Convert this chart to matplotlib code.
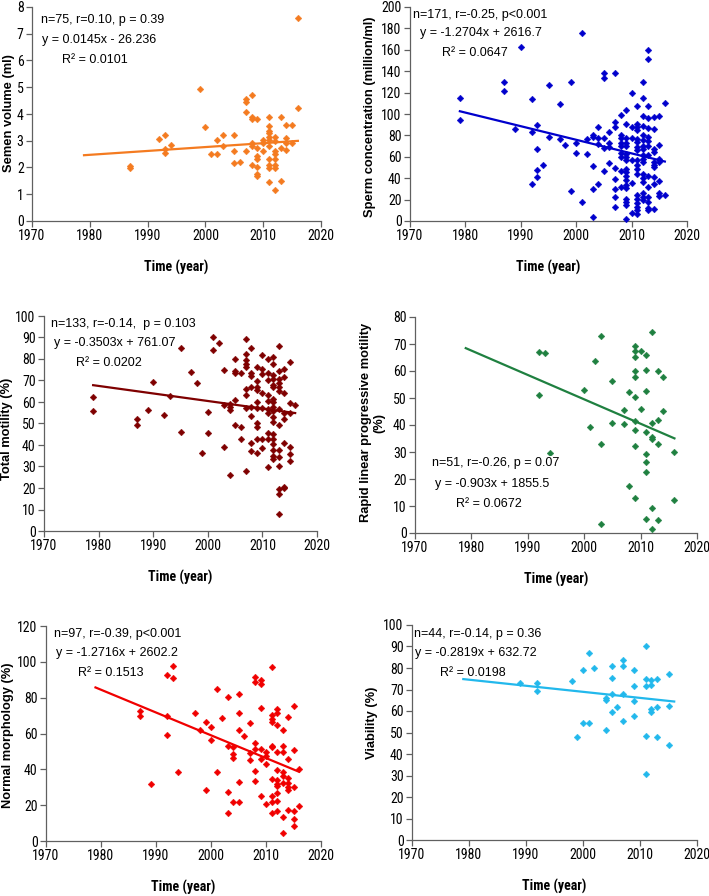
import matplotlib
matplotlib.use("Agg")
import matplotlib.pyplot as plt
from matplotlib import font_manager
from matplotlib.font_manager import FontProperties

# ---------- font discovery (narrow / condensed sans if available) ----------
ttf = font_manager.fontManager.ttflist
def find_font(bold):
    want_w = (lambda w: (w if isinstance(w, int) else 400) >= 600) if bold else \
             (lambda w: (w if isinstance(w, int) else 400) < 600)
    prefs = ['Liberation Sans Narrow', 'Arial Narrow', 'Roboto Condensed',
             'Open Sans Condensed', 'Noto Sans Condensed', 'DejaVu Sans Condensed']
    for name in prefs:
        for f in ttf:
            if f.name == name and f.style == 'normal' and want_w(f.weight):
                return f.fname
    for f in ttf:
        if f.name in ('DejaVu Sans', 'Noto Sans', 'Open Sans', 'Roboto') and \
                f.stretch in ('condensed', 'semi-condensed') and f.style == 'normal' \
                and want_w(f.weight):
            return f.fname
    return None

nr = find_font(False)
nb = find_font(True)
HAVE_NARROW = nr is not None and nb is not None
if HAVE_NARROW:
    FP_TICK = FontProperties(fname=nr, size=10)
    FP_XLAB = FontProperties(fname=nb, size=10)
else:
    FP_TICK = FontProperties(family='Liberation Sans', size=8.6)
    FP_XLAB = FontProperties(family='Liberation Sans', weight='bold', size=8.8)
FP_TEXT = FontProperties(family='Liberation Sans', size=9)
FP_YLAB = FontProperties(family='Liberation Sans', weight='bold', size=9.3)

# ---------------- DATA ----------------
# Panel 1: Semen volume (ml)
vol_years = [1987, 1992, 1993, 1994, 1999, 2000, 2001, 2002, 2003, 2005, 2006, 2007,
             2008, 2009, 2010, 2011, 2012, 2013, 2014, 2015, 2016]
vol_values = [[2.07, 1.98], [3.05], [3.22, 2.7, 2.53], [2.85], [4.94], [3.5], [2.5],
              [3.03, 2.5], [3.22, 2.82], [3.22, 2.62, 2.17], [2.2],
              [4.57, 4.43, 4.08, 2.62], [4.7, 3.88, 3.8, 2.9, 2.82, 2.1],
              [3.8, 2.72, 2.43, 2.3, 2.03, 1.75, 1.68], [3.03, 2.9, 2.62],
              [3.9, 3.55, 3.38, 3.28, 3.15, 3.03, 2.82, 2.3, 2.1, 1.97, 1.47],
              [3.15, 3.0, 2.62, 2.5, 2.3, 2.1, 1.97, 1.16], [3.9, 2.72, 1.5],
              [3.6, 3.1, 2.9, 2.67], [3.6, 2.9], [7.6, 4.22]]
vol_fit = (0.0145, -26.236)
vol_text = ["n=75, r=0.10, p = 0.39", "y = 0.0145x - 26.236", "R² = 0.0101"]

# Panel 2: Sperm concentration (million/ml)
conc_years = [1979, 1987, 1989, 1990, 1992, 1993, 1994, 1995, 1997, 1998, 1999, 2000,
              2001, 2002, 2003, 2004, 2005, 2006, 2007, 2008, 2009, 2010, 2011, 2012,
              2013, 2014, 2015, 2016]
conc_values = [[114.5, 94.8], [129.5, 121.7], [86], [162.6], [113.6, 83.3, 34.6],
               [89.5, 67.4, 48, 41.5], [52.7], [127.3, 78.6], [109.5, 77], [71.4],
               [130, 27.8], [73.3, 63.6], [175.7, 17.5], [77, 63],
               [80.2, 78.3, 51.5, 29.6, 3.7], [88, 77.7, 72, 34.3],
               [138.5, 133.2, 77.7, 68, 47.1], [83.6, 72.7, 69, 54.6],
               [138, 92.7, 88.3, 49.6, 39.3, 30.3, 22.8, 13.1],
               [99, 80.2, 78, 72.7, 70.2, 64, 60.2, 46.5, 32.1],
               [103.9, 90.5, 78, 72.7, 70.2, 63, 60.2, 57, 49, 45.9, 42.1, 38.4, 33.4,
                30.6, 20.3, 17.8, 14.7, 2.2],
               [119.8, 88, 77.7, 57, 35.9, 7.8],
               [107.6, 91, 88.3, 84.9, 76.4, 74, 69.6, 66.1, 57, 52.4, 49, 44, 24, 20.6,
                16.5, 13.4, 10.3, 6.9],
               [130, 114.5, 98, 88.9, 80.5, 75.8, 70.2, 67, 61.5, 58, 54.9, 43.7, 40.2,
                36.2, 26.5, 22.8, 19.7],
               [159.7, 151.6, 107.6, 96.4, 87, 78.9, 74.6, 70.2, 61.5, 42.4, 31.5, 22.8,
                18.1, 12.5, 10],
               [97, 86, 67.4, 64.6, 55.2, 52.1, 50.2, 40.9, 34.3, 11.2],
               [98, 71.4, 57.7, 54.9, 37.1, 26.5, 23.7], [110.1, 24]]
conc_fit = (-1.2704, 2616.7)
conc_text = ["n=171, r=-0.25, p<0.001", "y = -1.2704x + 2616.7", "R² = 0.0647"]

# Panel 3: Total motility (%)
mot_years = [1979, 1987, 1989, 1990, 1992, 1993, 1995, 1997, 1998, 1999, 2000, 2001,
             2002, 2003, 2004, 2005, 2006, 2007, 2008, 2009, 2010, 2011, 2012, 2013,
             2014, 2015, 2016]
mot_values = [[62.2, 56], [51.9, 49.1], [56.4], [69.5], [54], [62.6], [85.1, 46.2],
              [74.1], [69], [36.4], [55.3, 45.7], [90.4, 84.2], [87.6],
              [74.9, 58.4, 39.1], [59.1, 57.8, 56.3, 26.2],
              [80, 74.4, 73.5, 60.9, 49.1], [73.6, 48.5, 42.9],
              [89.5, 82.5, 79.5, 77.7, 76.4, 65.9, 63.3, 57.2, 28.1],
              [85.3, 73.3, 72.1, 66.8, 57.8, 53.5, 40.8, 37.4],
              [76.4, 69.9, 66.8, 65.6, 59.8, 57.4, 50.4, 48.2, 42.8, 36.1],
              [81.9, 75.5, 73.2, 64, 57, 42.8, 38.8],
              [79.8, 73.3, 70.2, 63.3, 60.5, 56.9, 54.9, 45.7, 42.6, 29.9],
              [81.1, 77.5, 72.6, 70.5, 67.8, 66.8, 61.6, 59.8, 57.8, 55.7, 52.9, 50.7,
               45.1, 42.6, 40.5, 37.7, 34.9, 33.6],
              [86, 74.6, 70.7, 69, 67, 65.3, 56.9, 49.1, 37.7, 34.6, 30.1, 19.5, 17.2, 7.9],
              [75.5, 71.5, 64.3, 54.7, 52.2, 40.8, 20.6, 20],
              [78.8, 59.4, 54.7, 39.2, 35.8, 32.7], [58.6]]
mot_fit = (-0.3503, 761.07)
mot_text = ["n=133, r=-0.14,  p = 0.103", "y = -0.3503x + 761.07", "R² = 0.0202"]

# Panel 4: Rapid linear progressive motility (%)
rap_years = [1992, 1993, 1994, 2000, 2001, 2002, 2003, 2005, 2007, 2008, 2009, 2010,
             2011, 2012, 2013, 2014, 2016]
rap_values = [[67, 51], [66.7], [29.5], [53], [39.1], [63.7], [72.8, 33.1, 3.2],
              [56.2, 40.9], [45.7, 40.5], [52.1, 17.5],
              [69.1, 67.5, 65, 60.1, 57.8, 50.2, 41.4, 38.1, 32.1, 12.8], [67.5, 46.1],
              [66, 60.3, 52.5, 37.5, 29.3, 26.3, 22.5, 5.2],
              [74.3, 40.9, 35.7, 34.9, 9.3, 1.5], [59.9, 41.9, 33.1, 5],
              [57.8, 45.3], [30, 12.4]]
rap_fit = (-0.903, 1855.5)
rap_text = ["n=51, r=-0.26, p = 0.07", "y = -0.903x + 1855.5", "R² = 0.0672"]

# Panel 5: Normal morphology (%)
mor_years = [1987, 1989, 1992, 1993, 1994, 1997, 1998, 1999, 2000, 2001, 2002, 2003,
             2004, 2005, 2006, 2007, 2008, 2009, 2010, 2011, 2012, 2013, 2014, 2015, 2016]
mor_values = [[72.3, 70], [31.7], [92.6, 69.7, 59.4], [97.6, 90.9], [38.4], [71.5],
              [61.9], [66.3, 28.5], [63.4, 56.3], [84.8, 38.4], [68.9],
              [80.5, 52.9, 27.6, 15.7], [52.5, 48.8, 46.4, 21.6],
              [81.8, 71.5, 61.9, 32.8, 21.6], [58.7], [65.6, 49.2, 45.3],
              [91.5, 88.7, 54.6, 51.4, 39.1, 33.5], [89.8, 87.8, 74.5, 51.4, 45.6, 25],
              [49.6, 47.3, 43, 20.9],
              [97.3, 70.2, 68.2, 66.3, 53.1, 52.2, 34.7, 25, 21.6, 15.5],
              [73.4, 71.5, 64.5, 49.6, 39.5, 33.9, 32, 30.6, 26.8, 22.4, 16.8],
              [62.2, 52.9, 49.6, 38.6, 36.5, 32.4, 13.4, 4.3],
              [69.3, 45.5, 35.4, 32.4, 30.2, 28.3, 17.1],
              [75.1, 51, 30.2, 16.8, 12.3, 8.6], [40.2, 19.4]]
mor_fit = (-1.2716, 2602.2)
mor_text = ["n=97, r=-0.39, p<0.001", "y = -1.2716x + 2602.2", "R² = 0.1513"]

# Panel 6: Viability (%)
via_years = [1989, 1992, 1998, 1999, 2000, 2001, 2002, 2004, 2005, 2006, 2007, 2009,
             2011, 2012, 2013, 2015]
via_values = [[72.9], [72.9, 69.1], [73.8], [47.8], [79.2, 54.6], [87, 54.6], [80.2],
              [65.9, 65.1, 51.2], [80.8, 75.3, 67.9, 59.7], [61.7],
              [83.7, 80.8, 67.9, 55.5], [78.9, 71.6, 64.8, 57.7],
              [90.4, 74.7, 71.6, 48.5, 30.9], [74.3, 71.9, 60.8, 59.5],
              [75, 61.9, 47.9], [77.1, 62.5, 44]]
via_fit = (-0.2819, 632.72)
via_text = ["n=44, r=-0.14, p = 0.36", "y = -0.2819x + 632.72", "R² = 0.0198"]

fit_range = (1979, 2016)

# ---------------- LAYOUT ----------------
W, H = 709, 896
panels = [
    dict(years=vol_years, vals=vol_values, fit=vol_fit, text=vol_text, color='#F47B20',
         box=(32, 7, 321, 221), ylim=(0, 8), ystep=1, ylabel="Semen volume (ml)",
         ylx=-0.080, yly=0.505, tpos=[(1971.6, 7.5), (1971.7, 6.77), (1975.2, 6.02)], bbox=False),
    dict(years=conc_years, vals=conc_values, fit=conc_fit, text=conc_text, color='#0000CC',
         box=(410, 7, 687, 221), ylim=(0, 200), ystep=20,
         ylabel="Sperm concentration (million/ml)",
         ylx=-0.144, yly=0.486, tpos=[(1970.6, 192.8), (1971.8, 175.7), (1975.8, 157)], bbox=False),
    dict(years=mot_years, vals=mot_values, fit=mot_fit, text=mot_text, color='#7F0000',
         box=(44, 316, 317, 531), ylim=(0, 100), ystep=10, ylabel="Total motility (%)",
         ylx=-0.135, yly=0.475, tpos=[(1971.3, 96.3), (1971.8, 87.3), (1975.9, 78.3)], bbox=False),
    dict(years=rap_years, vals=rap_values, fit=rap_fit, text=rap_text, color='#1F8040',
         box=(415, 317, 697, 533), ylim=(0, 80), ystep=10,
         ylabel="Rapid linear progressive motility\n(%)",
         ylx=-0.150, yly=0.51, tpos=[(1973.0, 25.8), (1973.6, 18.3), (1977.3, 10.6)], bbox=True),
    dict(years=mor_years, vals=mor_values, fit=mor_fit, text=mor_text, color='#F00000',
         box=(46, 626, 321, 841), ylim=(0, 120), ystep=20, ylabel="Normal morphology (%)",
         ylx=-0.137, yly=0.49, tpos=[(1971.4, 115.5), (1971.9, 104.7), (1975.9, 93.5)], bbox=False),
    dict(years=via_years, vals=via_values, fit=via_fit, text=via_text, color='#22B8EC',
         box=(412, 625, 697, 840), ylim=(0, 100), ystep=10, ylabel="Viability (%)",
         ylx=-0.140, yly=0.545, tpos=[(1970.3, 95.8), (1970.6, 87.1), (1975.0, 77.8)], bbox=False),
]

fig = plt.figure(figsize=(W / 100, H / 100), dpi=100)
fig.patch.set_facecolor('white')

for p in panels:
    x0, y0, x1, y1 = p['box']
    ax = fig.add_axes([x0 / W, 1 - y1 / H, (x1 - x0) / W, (y1 - y0) / H])
    xs, ys = [], []
    for yr, vl in zip(p['years'], p['vals']):
        for v in vl:
            xs.append(yr)
            ys.append(v)
    ax.plot(xs, ys, linestyle='none', marker='D', markersize=3.4,
            color=p['color'], markeredgewidth=0.3, zorder=3, clip_on=False)
    a, b = p['fit']
    fx = list(fit_range)
    ax.plot(fx, [a * x + b for x in fx], color=p['color'], lw=1.6, zorder=2)

    ax.set_xlim(1970, 2020)
    ax.set_ylim(*p['ylim'])
    ax.set_xticks(range(1970, 2021, 10))
    lo, hi = p['ylim']
    ax.set_yticks(range(lo, hi + 1, p['ystep']))
    for s in ['top', 'right']:
        ax.spines[s].set_visible(False)
    for s in ['left', 'bottom']:
        ax.spines[s].set_color('#606060')
        ax.spines[s].set_linewidth(0.9)
    ax.tick_params(direction='out', length=4, width=0.9, color='#606060', pad=2)
    for lab in ax.get_xticklabels() + ax.get_yticklabels():
        lab.set_fontproperties(FP_TICK)
    ax.set_xlabel("Time (year)", fontproperties=FP_XLAB)
    ax.xaxis.set_label_coords(0.5, -0.215)
    ax.xaxis.label.set_va('center')
    ax.set_ylabel(p['ylabel'], fontproperties=FP_YLAB, linespacing=1.1)
    ax.yaxis.set_label_coords(p['ylx'], p['yly'])
    ax.yaxis.label.set_va('center')

    for t, (tx, ty) in zip(p['text'], p['tpos']):
        kw = {}
        if p['bbox']:
            kw['bbox'] = dict(facecolor='white', edgecolor='none', pad=0.6)
        ax.text(tx, ty, t, fontproperties=FP_TEXT, ha='left', va='center',
                zorder=5, **kw)

fig.savefig('out.png', dpi=100, facecolor='white')
